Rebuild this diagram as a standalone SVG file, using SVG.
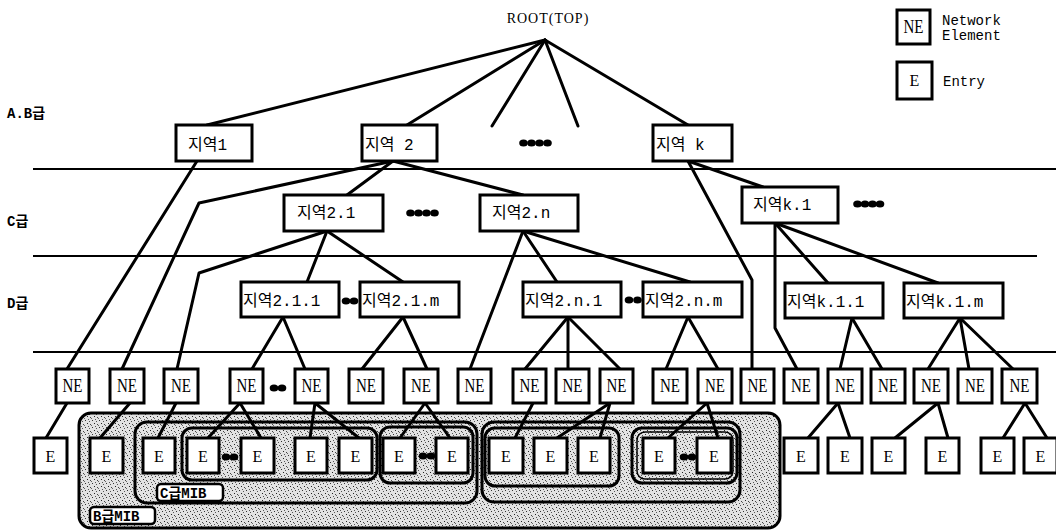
<svg xmlns="http://www.w3.org/2000/svg" width="1056" height="530" viewBox="0 0 1056 530">
<style>
.box{fill:#fff;stroke:#000;stroke-width:3}
.ln{stroke:#000;stroke-width:3;fill:none;stroke-linecap:round;stroke-linejoin:round}
.hl{stroke:#000;stroke-width:2.2}
.mib{fill:none;stroke:#000;stroke-width:3}
.kr{font-family:"Liberation Mono","Noto Sans CJK KR",monospace;font-size:16px;fill:#000}
.lv{font-family:"Liberation Mono","Noto Sans CJK KR",monospace;font-size:14px;font-weight:bold;fill:#000}
.ne{font-family:"Liberation Serif",serif;font-size:18px;fill:#000}
.e{font-family:"Liberation Serif",serif;font-size:16px;fill:#000}
.lg{font-family:"Liberation Mono",monospace;font-size:14px;fill:#000}
.dot{fill:#000}
</style>
<defs>
<pattern id="stip" width="7" height="7" patternUnits="userSpaceOnUse">
<rect width="7" height="7" fill="#e2e2e2"/>
<rect x="1" y="0" width="1" height="1" fill="#333"/>
<rect x="5" y="1" width="1" height="1" fill="#555"/>
<rect x="3" y="3" width="1" height="1" fill="#222"/>
<rect x="0" y="5" width="1" height="1" fill="#666"/>
<rect x="6" y="4" width="1" height="1" fill="#444"/>
<rect x="4" y="6" width="1" height="1" fill="#555"/>
</pattern>
</defs>

<g id="levels">
<line class="hl" x1="33" y1="169" x2="1056" y2="169"/>
<line class="hl" x1="33" y1="256" x2="1037" y2="256"/>
<line class="hl" x1="33" y1="352" x2="1056" y2="352"/>
<text class="lv" x="7" y="118">A.B급</text>
<text class="lv" x="7" y="226">C급</text>
<text class="lv" x="7" y="308">D급</text>
</g>

<g id="mib">
<rect x="79" y="413" width="701" height="115" rx="12" fill="url(#stip)" stroke="#000" stroke-width="3"/>
<rect class="mib" x="135" y="422" width="342" height="81" rx="12"/>
<rect class="mib" x="482" y="422" width="258" height="80" rx="12"/>
<rect class="mib" x="182" y="428" width="195" height="52" rx="10"/>
<rect class="mib" x="380" y="427" width="93" height="56" rx="10"/>
<rect class="mib" x="485" y="428" width="134" height="58" rx="10"/>
<rect class="mib" x="632" y="428" width="105" height="55" rx="10"/>
<rect x="637" y="432" width="96" height="47" rx="8" fill="none" stroke="#000" stroke-width="1.5"/>
<g id="cmib-label"><rect x="157" y="484" width="66" height="17" rx="4" fill="#fff" stroke="#000" stroke-width="2.5"/><text class="lv" x="160" y="498">C급MIB</text></g>
<g id="bmib-label"><rect x="90" y="507" width="65" height="17" rx="4" fill="#fff" stroke="#000" stroke-width="2.5"/><text class="lv" x="93" y="521">B급MIB</text></g>
</g>

<g id="connectors">
<line class="ln" x1="545" y1="40" x2="207" y2="125"/>
<line class="ln" x1="545" y1="40" x2="407" y2="125"/>
<line class="ln" x1="545" y1="40" x2="492" y2="126"/>
<line class="ln" x1="545" y1="40" x2="578" y2="126"/>
<line class="ln" x1="545" y1="40" x2="688" y2="125"/>
<line class="ln" x1="197" y1="161" x2="67" y2="369"/>
<polyline class="ln" points="393,161 199,203 122,369"/>
<line class="ln" x1="393" y1="161" x2="347" y2="195"/>
<line class="ln" x1="393" y1="161" x2="523" y2="195"/>
<polyline class="ln" points="327,231 199,273 177,369"/>
<line class="ln" x1="327" y1="231" x2="307" y2="282"/>
<line class="ln" x1="327" y1="231" x2="403" y2="282"/>
<line class="ln" x1="523" y1="231" x2="470" y2="369"/>
<line class="ln" x1="523" y1="231" x2="557" y2="282"/>
<line class="ln" x1="523" y1="231" x2="690" y2="282"/>
<polyline class="ln" points="688,161 752,280 752,369"/>
<line class="ln" x1="688" y1="161" x2="763" y2="187"/>
<polyline class="ln" points="775,223 775,328 797,369"/>
<line class="ln" x1="775" y1="223" x2="828" y2="283"/>
<line class="ln" x1="775" y1="223" x2="938" y2="283"/>
<line class="ln" x1="283" y1="317" x2="252" y2="369"/>
<line class="ln" x1="283" y1="317" x2="305" y2="369"/>
<line class="ln" x1="403" y1="317" x2="362" y2="369"/>
<line class="ln" x1="403" y1="317" x2="427" y2="369"/>
<line class="ln" x1="568" y1="317" x2="525" y2="369"/>
<line class="ln" x1="568" y1="317" x2="568" y2="369"/>
<line class="ln" x1="568" y1="317" x2="620" y2="369"/>
<line class="ln" x1="688" y1="317" x2="666" y2="369"/>
<line class="ln" x1="688" y1="317" x2="718" y2="369"/>
<line class="ln" x1="852" y1="318" x2="840" y2="369"/>
<line class="ln" x1="852" y1="318" x2="882" y2="369"/>
<line class="ln" x1="960" y1="318" x2="928" y2="369"/>
<line class="ln" x1="960" y1="318" x2="969" y2="369"/>
<line class="ln" x1="960" y1="318" x2="1013" y2="369"/>
<line class="ln" x1="67" y1="403" x2="46" y2="438"/>
<line class="ln" x1="130" y1="403" x2="100" y2="438"/>
<line class="ln" x1="176" y1="403" x2="158" y2="438"/>
<line class="ln" x1="240" y1="403" x2="208" y2="438"/>
<line class="ln" x1="240" y1="403" x2="261" y2="438"/>
<line class="ln" x1="315" y1="403" x2="310" y2="438"/>
<line class="ln" x1="315" y1="403" x2="359" y2="438"/>
<line class="ln" x1="425" y1="403" x2="400" y2="438"/>
<line class="ln" x1="425" y1="403" x2="450" y2="438"/>
<line class="ln" x1="533" y1="403" x2="515" y2="438"/>
<line class="ln" x1="610" y1="403" x2="557" y2="438"/>
<line class="ln" x1="610" y1="403" x2="600" y2="438"/>
<line class="ln" x1="707" y1="403" x2="668" y2="438"/>
<line class="ln" x1="707" y1="403" x2="718" y2="438"/>
<line class="ln" x1="838" y1="403" x2="808" y2="438"/>
<line class="ln" x1="838" y1="403" x2="850" y2="438"/>
<line class="ln" x1="938" y1="403" x2="895" y2="438"/>
<line class="ln" x1="938" y1="403" x2="948" y2="438"/>
<line class="ln" x1="1025" y1="403" x2="1003" y2="438"/>
<line class="ln" x1="1025" y1="403" x2="1047" y2="438"/>
</g>

<g id="ellipses">
<ellipse class="dot" cx="523.5" cy="143" rx="4.3" ry="3.5"/><ellipse class="dot" cx="531.5" cy="143" rx="4.3" ry="3.5"/><ellipse class="dot" cx="539.5" cy="143" rx="4.3" ry="3.5"/><ellipse class="dot" cx="547.5" cy="143" rx="4.3" ry="3.5"/>
<ellipse class="dot" cx="410.5" cy="213" rx="4.3" ry="3.5"/><ellipse class="dot" cx="418.5" cy="213" rx="4.3" ry="3.5"/><ellipse class="dot" cx="426.5" cy="213" rx="4.3" ry="3.5"/><ellipse class="dot" cx="434.5" cy="213" rx="4.3" ry="3.5"/>
<ellipse class="dot" cx="857.5" cy="204" rx="4.3" ry="3.5"/><ellipse class="dot" cx="865" cy="204" rx="4.3" ry="3.5"/><ellipse class="dot" cx="872.5" cy="204" rx="4.3" ry="3.5"/><ellipse class="dot" cx="880" cy="204" rx="4.3" ry="3.5"/>
<ellipse class="dot" cx="346" cy="301" rx="4.3" ry="3.5"/><ellipse class="dot" cx="354" cy="301" rx="4.3" ry="3.5"/>
<ellipse class="dot" cx="629" cy="300" rx="4.3" ry="3.5"/><ellipse class="dot" cx="637.5" cy="300" rx="4.3" ry="3.5"/>
<ellipse class="dot" cx="274" cy="388" rx="4.3" ry="3.5"/><ellipse class="dot" cx="282" cy="388" rx="4.3" ry="3.5"/>
<ellipse class="dot" cx="226" cy="457" rx="4.3" ry="3.5"/><ellipse class="dot" cx="234" cy="457" rx="4.3" ry="3.5"/>
<ellipse class="dot" cx="423" cy="456" rx="4.3" ry="3.5"/><ellipse class="dot" cx="431" cy="456" rx="4.3" ry="3.5"/>
<ellipse class="dot" cx="684" cy="457" rx="4.3" ry="3.5"/><ellipse class="dot" cx="692" cy="457" rx="4.3" ry="3.5"/>
</g>

<g id="root"><text x="548" y="23" text-anchor="middle" font-family="Liberation Serif, serif" font-size="14" letter-spacing="1">ROOT(TOP)</text></g>

<g id="legend">
<g id="legend-ne"><rect class="box" x="897" y="10" width="33" height="34"/><text class="ne" x="913.5" y="33" text-anchor="middle" textLength="20" lengthAdjust="spacingAndGlyphs">NE</text>
<text class="lg" x="942" y="25">Network</text><text class="lg" x="942" y="40">Element</text></g>
<g id="legend-e"><rect class="box" x="897" y="62" width="35" height="37"/><text class="e" x="914.5" y="86" text-anchor="middle">E</text>
<text class="lg" x="943" y="86">Entry</text></g>
</g>

<g id="r1"><rect class="box" x="176" y="125" width="76" height="36"/><text class="kr" x="188" y="150">지역1</text></g>
<g id="r2"><rect class="box" x="362" y="125" width="75" height="36"/><text class="kr" x="365" y="150">지역 2</text></g>
<g id="rk"><rect class="box" x="653" y="125" width="79" height="36"/><text class="kr" x="656" y="150">지역 k</text></g>
<g id="r2_1"><rect class="box" x="284" y="195" width="99" height="36"/><text class="kr" x="297" y="218">지역2.1</text></g>
<g id="r2_n"><rect class="box" x="480" y="195" width="98" height="36"/><text class="kr" x="492" y="218">지역2.n</text></g>
<g id="rk_1"><rect class="box" x="742" y="187" width="96" height="36"/><text class="kr" x="753" y="210">지역k.1</text></g>
<g id="r2_1_1"><rect class="box" x="241" y="282" width="98" height="35"/><text class="kr" x="243" y="306">지역2.1.1</text></g>
<g id="r2_1_m"><rect class="box" x="360" y="282" width="99" height="35"/><text class="kr" x="362" y="306">지역2.1.m</text></g>
<g id="r2_n_1"><rect class="box" x="523" y="282" width="98" height="35"/><text class="kr" x="525" y="306">지역2.n.1</text></g>
<g id="r2_n_m"><rect class="box" x="643" y="282" width="99" height="35"/><text class="kr" x="645" y="306">지역2.n.m</text></g>
<g id="rk_1_1"><rect class="box" x="785" y="283" width="98" height="35"/><text class="kr" x="787" y="307">지역k.1.1</text></g>
<g id="rk_1_m"><rect class="box" x="904" y="283" width="99" height="35"/><text class="kr" x="906" y="307">지역k.1.m</text></g>

<g id="ne-row">
<g id="ne1"><rect class="box" x="56" y="369" width="33" height="34"/><text class="ne" x="72.5" y="392" text-anchor="middle" textLength="20" lengthAdjust="spacingAndGlyphs">NE</text></g>
<g id="ne2"><rect class="box" x="110" y="369" width="34" height="34"/><text class="ne" x="127" y="392" text-anchor="middle" textLength="20" lengthAdjust="spacingAndGlyphs">NE</text></g>
<g id="ne3"><rect class="box" x="164" y="369" width="34" height="34"/><text class="ne" x="181" y="392" text-anchor="middle" textLength="20" lengthAdjust="spacingAndGlyphs">NE</text></g>
<g id="ne4"><rect class="box" x="230" y="369" width="33" height="34"/><text class="ne" x="246.5" y="392" text-anchor="middle" textLength="20" lengthAdjust="spacingAndGlyphs">NE</text></g>
<g id="ne5"><rect class="box" x="295" y="369" width="33" height="34"/><text class="ne" x="311.5" y="392" text-anchor="middle" textLength="20" lengthAdjust="spacingAndGlyphs">NE</text></g>
<g id="ne6"><rect class="box" x="349" y="369" width="34" height="34"/><text class="ne" x="366" y="392" text-anchor="middle" textLength="20" lengthAdjust="spacingAndGlyphs">NE</text></g>
<g id="ne7"><rect class="box" x="404" y="369" width="34" height="34"/><text class="ne" x="421" y="392" text-anchor="middle" textLength="20" lengthAdjust="spacingAndGlyphs">NE</text></g>
<g id="ne8"><rect class="box" x="458" y="369" width="33" height="34"/><text class="ne" x="474.5" y="392" text-anchor="middle" textLength="20" lengthAdjust="spacingAndGlyphs">NE</text></g>
<g id="ne9"><rect class="box" x="513" y="369" width="33" height="34"/><text class="ne" x="529.5" y="392" text-anchor="middle" textLength="20" lengthAdjust="spacingAndGlyphs">NE</text></g>
<g id="ne10"><rect class="box" x="556" y="369" width="33" height="34"/><text class="ne" x="572.5" y="392" text-anchor="middle" textLength="20" lengthAdjust="spacingAndGlyphs">NE</text></g>
<g id="ne11"><rect class="box" x="600" y="369" width="33" height="34"/><text class="ne" x="616.5" y="392" text-anchor="middle" textLength="20" lengthAdjust="spacingAndGlyphs">NE</text></g>
<g id="ne12"><rect class="box" x="653" y="369" width="34" height="34"/><text class="ne" x="670" y="392" text-anchor="middle" textLength="20" lengthAdjust="spacingAndGlyphs">NE</text></g>
<g id="ne13"><rect class="box" x="698" y="369" width="34" height="34"/><text class="ne" x="715" y="392" text-anchor="middle" textLength="20" lengthAdjust="spacingAndGlyphs">NE</text></g>
<g id="ne14"><rect class="box" x="741" y="369" width="33" height="34"/><text class="ne" x="757.5" y="392" text-anchor="middle" textLength="20" lengthAdjust="spacingAndGlyphs">NE</text></g>
<g id="ne15"><rect class="box" x="784" y="369" width="34" height="34"/><text class="ne" x="801" y="392" text-anchor="middle" textLength="20" lengthAdjust="spacingAndGlyphs">NE</text></g>
<g id="ne16"><rect class="box" x="828" y="369" width="34" height="34"/><text class="ne" x="845" y="392" text-anchor="middle" textLength="20" lengthAdjust="spacingAndGlyphs">NE</text></g>
<g id="ne17"><rect class="box" x="871" y="369" width="34" height="34"/><text class="ne" x="888" y="392" text-anchor="middle" textLength="20" lengthAdjust="spacingAndGlyphs">NE</text></g>
<g id="ne18"><rect class="box" x="914" y="369" width="34" height="34"/><text class="ne" x="931" y="392" text-anchor="middle" textLength="20" lengthAdjust="spacingAndGlyphs">NE</text></g>
<g id="ne19"><rect class="box" x="958" y="369" width="34" height="34"/><text class="ne" x="975" y="392" text-anchor="middle" textLength="20" lengthAdjust="spacingAndGlyphs">NE</text></g>
<g id="ne20"><rect class="box" x="1002" y="369" width="35" height="34"/><text class="ne" x="1019.5" y="392" text-anchor="middle" textLength="20" lengthAdjust="spacingAndGlyphs">NE</text></g>
</g>

<g id="e-row">
<g id="e1"><rect class="box" x="34" y="438" width="33" height="35"/><text class="e" x="50.5" y="462" text-anchor="middle">E</text></g>
<g id="e2"><rect class="box" x="90" y="438" width="33" height="35"/><text class="e" x="106.5" y="462" text-anchor="middle">E</text></g>
<g id="e3"><rect class="box" x="143" y="438" width="32" height="35"/><text class="e" x="159" y="462" text-anchor="middle">E</text></g>
<g id="e4"><rect class="box" x="187" y="438" width="32" height="35"/><text class="e" x="203" y="462" text-anchor="middle">E</text></g>
<g id="e5"><rect class="box" x="241" y="438" width="33" height="35"/><text class="e" x="257.5" y="462" text-anchor="middle">E</text></g>
<g id="e6"><rect class="box" x="295" y="438" width="32" height="35"/><text class="e" x="311" y="462" text-anchor="middle">E</text></g>
<g id="e7"><rect class="box" x="339" y="438" width="33" height="35"/><text class="e" x="355.5" y="462" text-anchor="middle">E</text></g>
<g id="e8"><rect class="box" x="383" y="438" width="32" height="35"/><text class="e" x="399" y="462" text-anchor="middle">E</text></g>
<g id="e9"><rect class="box" x="436" y="438" width="32" height="35"/><text class="e" x="452" y="462" text-anchor="middle">E</text></g>
<g id="e10"><rect class="box" x="489" y="438" width="34" height="35"/><text class="e" x="506" y="462" text-anchor="middle">E</text></g>
<g id="e11"><rect class="box" x="534" y="438" width="33" height="35"/><text class="e" x="550.5" y="462" text-anchor="middle">E</text></g>
<g id="e12"><rect class="box" x="578" y="438" width="32" height="35"/><text class="e" x="594" y="462" text-anchor="middle">E</text></g>
<g id="e13"><rect class="box" x="643" y="438" width="32" height="35"/><text class="e" x="659" y="462" text-anchor="middle">E</text></g>
<g id="e14"><rect class="box" x="697" y="438" width="34" height="35"/><text class="e" x="714" y="462" text-anchor="middle">E</text></g>
<g id="e15"><rect class="box" x="784" y="438" width="34" height="35"/><text class="e" x="801" y="462" text-anchor="middle">E</text></g>
<g id="e16"><rect class="box" x="828" y="438" width="34" height="35"/><text class="e" x="845" y="462" text-anchor="middle">E</text></g>
<g id="e17"><rect class="box" x="872" y="438" width="33" height="35"/><text class="e" x="888.5" y="462" text-anchor="middle">E</text></g>
<g id="e18"><rect class="box" x="926" y="438" width="33" height="35"/><text class="e" x="942.5" y="462" text-anchor="middle">E</text></g>
<g id="e19"><rect class="box" x="981" y="438" width="33" height="35"/><text class="e" x="997.5" y="462" text-anchor="middle">E</text></g>
<g id="e20"><rect class="box" x="1024" y="438" width="33" height="35"/><text class="e" x="1040.5" y="462" text-anchor="middle">E</text></g>
</g>
</svg>
